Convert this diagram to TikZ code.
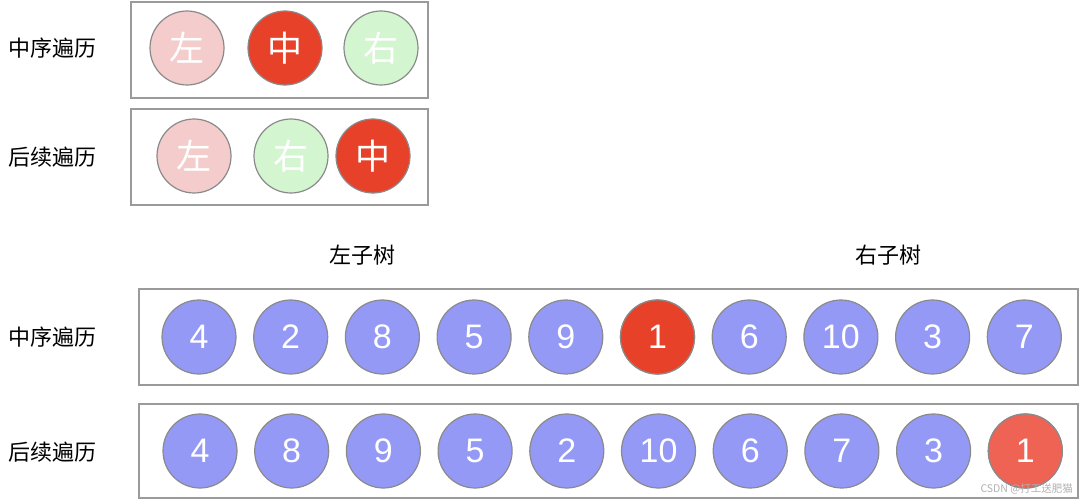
\documentclass[tikz,border=0pt]{standalone}
\usepackage{fontspec}
\setmainfont{Liberation Sans}
\newfontfamily\cjk{Noto Sans CJK SC}
\definecolor{boxgray}{HTML}{9A9A9A}
\definecolor{circgray}{HTML}{8A8A8A}
\definecolor{nodeblue}{HTML}{9399F5}
\definecolor{nodered}{HTML}{E8412A}
\definecolor{nodelightred}{HTML}{EE6354}
\definecolor{nodepink}{HTML}{F4CCCC}
\definecolor{nodegreen}{HTML}{D3F5D0}
\definecolor{wmgray}{HTML}{B0B0B0}
\tikzset{
  framebox/.style={draw=boxgray, line width=1.6pt},
  circ/.style={circle, draw=circgray, line width=1.2pt, minimum size=74pt, inner sep=0pt, text=white},
  num/.style={circ, fill=nodeblue, font=\fontsize{34}{34}\selectfont},
  hanzi/.style={circ, font=\cjk\fontsize{35}{35}\selectfont},
  lbl/.style={font=\cjk\fontsize{22}{22}\selectfont, text=black, anchor=west, inner sep=0pt},
  title/.style={font=\cjk\fontsize{22}{22}\selectfont, text=black, inner sep=0pt},
}
\begin{document}
\begin{tikzpicture}[x=1pt,y=-1pt]
\useasboundingbox (0,0) rectangle (1080,500);
% top boxes
\draw[framebox] (131,2) rectangle (428,98);
\draw[framebox] (131,109) rectangle (428,205);
\node[lbl] (l1) at (8,48) {中序遍历};
\node[lbl] (l2) at (8,157) {后续遍历};
\node[hanzi, fill=nodepink] (a1) at (187,48) {左};
\node[hanzi, fill=nodered] (a2) at (285,48) {中};
\node[hanzi, fill=nodegreen] (a3) at (381,48) {右};
\node[hanzi, fill=nodepink] (b1) at (194,156) {左};
\node[hanzi, fill=nodegreen] (b2) at (291,156) {右};
\node[hanzi, fill=nodered] (b3) at (373,156) {中};
% subtree titles
\node[title] (t1) at (362,255) {左子树};
\node[title] (t2) at (888,255) {右子树};
% bottom boxes
\draw[framebox] (139,289) rectangle (1078,385);
\draw[framebox] (139,404) rectangle (1078,498);
\node[lbl] (l3) at (8,337) {中序遍历};
\node[lbl] (l4) at (8,452) {后续遍历};
\foreach \v [count=\i] in {4,2,8,5,9,1,6,10,3,7} {
  \node[num] (m\i) at ({199+91.7*(\i-1)},337) {\v};
}
\node[num, fill=nodered] at (m6) {1};
\foreach \v [count=\i] in {4,8,9,5,2,10,6,7,3,1} {
  \node[num] (p\i) at ({200+91.7*(\i-1)},451) {\v};
}
\node[num, fill=nodelightred] at (p10) {1};
\node[font=\cjk\fontsize{10.5}{10.5}\selectfont, text=wmgray, anchor=east, inner sep=0pt] (wm) at (1073,489) {CSDN @打工送肥猫};
\end{tikzpicture}
\end{document}
